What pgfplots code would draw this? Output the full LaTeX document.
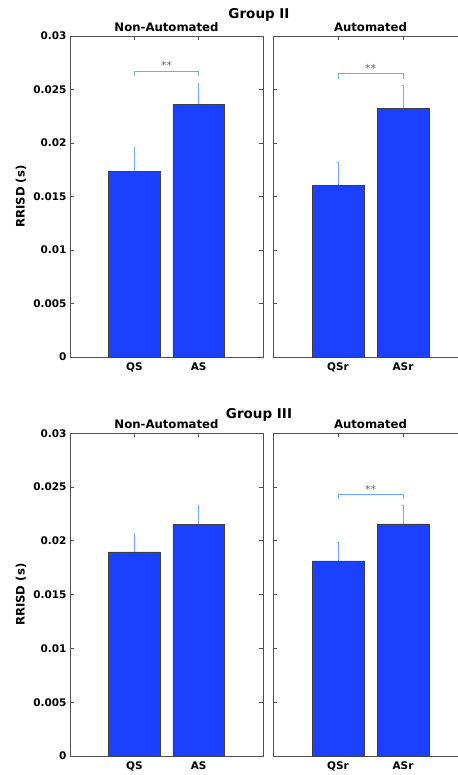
\documentclass[border=0pt]{standalone}
\usepackage{pgfplots}
\pgfplotsset{compat=1.18}
\usepackage{fontspec}
\setmainfont{DejaVu Sans}
\definecolor{barblue}{RGB}{28,64,255}
\definecolor{errblue}{RGB}{105,172,255}
\definecolor{spine}{RGB}{80,80,80}
\definecolor{stargray}{RGB}{105,105,105}
\tikzset{stars/.style={stargray, anchor=base, font=\fontsize{11}{11}\selectfont}}
\pgfplotsset{
  panel/.style={
    scale only axis, anchor=south west,
    xmin=0, xmax=3, ymin=0, ymax=0.03,
    xtick={1,2},
    ytick={0,0.005,0.01,0.015,0.02,0.025,0.03},
    scaled y ticks=false,
    tick align=inside, major tick length=4pt,
    axis line style={spine, line width=0.8pt},
    tick style={spine, line width=0.8pt},
    tick label style={font=\fontsize{10.5}{12}\selectfont\bfseries},
    xticklabel style={yshift=-2.5pt},
    title style={font=\fontsize{11.7}{13}\selectfont\bfseries, anchor=base, at={(0.5,1)}, yshift=-1.5pt},
    clip=false,
  },
  bars/.style={ybar, bar width=0.8, fill=barblue, draw=black!75, line width=0.6pt,
    error bars/.cd, y dir=plus, y explicit,
    error bar style={errblue, line width=1pt},
    error mark options={errblue, mark size=0.8pt, rotate=90}},
  bracket/.style={errblue, line width=0.9pt, mark=none},
}
\begin{document}
\begin{tikzpicture}[x=1pt,y=1pt]
\useasboundingbox (0,0) rectangle (457,775);
% ---------- Group II ----------
\node[anchor=base, font=\fontsize{13.5}{15}\selectfont\bfseries] at (259,756) {Group II};
\node[rotate=90, font=\fontsize{11.7}{13}\selectfont\bfseries] at (21,578.5) {RRISD (s)};
\begin{axis}[panel, at={(70pt,418pt)}, width=193pt, height=321pt,
  title={Non-Automated}, xticklabels={QS,AS},
  yticklabels={0,0.005,0.01,0.015,0.02,0.025,0.03}]
\addplot[bars] table[x=x, y=y, y error=e] {
x y e
1 0.01738 0.00218
2 0.02362 0.00196
};
\addplot[bracket] coordinates {(1,0.02626) (1,0.02673) (2,0.02673) (2,0.02626)};
\node[stars] at (axis cs:1.5,0.02687) {**};
\end{axis}
\begin{axis}[panel, at={(273pt,418pt)}, width=195pt, height=321pt,
  title={Automated}, xticklabels={QSr,ASr}, yticklabels={}]
\addplot[bars] table[x=x, y=y, y error=e] {
x y e
1 0.01607 0.00213
2 0.02327 0.00215
};
\addplot[bracket] coordinates {(1,0.02595) (1,0.02651) (2,0.02651) (2,0.02595)};
\node[stars] at (axis cs:1.5,0.02662) {**};
\end{axis}
% ---------- Group III ----------
\node[anchor=base, font=\fontsize{13.5}{15}\selectfont\bfseries] at (259,356.7) {Group III};
\node[rotate=90, font=\fontsize{11.7}{13}\selectfont\bfseries] at (21,180.3) {RRISD (s)};
\begin{axis}[panel, at={(70pt,19pt)}, width=193pt, height=322.7pt,
  title={Non-Automated}, xticklabels={QS,AS},
  yticklabels={0,0.005,0.01,0.015,0.02,0.025,0.03}]
\addplot[bars] table[x=x, y=y, y error=e] {
x y e
1 0.01897 0.00170
2 0.02154 0.00173
};
\end{axis}
\begin{axis}[panel, at={(273pt,19pt)}, width=195pt, height=322.7pt,
  title={Automated}, xticklabels={QSr,ASr}, yticklabels={}]
\addplot[bars] table[x=x, y=y, y error=e] {
x y e
1 0.01813 0.00179
2 0.02157 0.00170
};
\addplot[bracket] coordinates {(1,0.02387) (1,0.02429) (2,0.02429) (2,0.02387)};
\node[stars] at (axis cs:1.5,0.02438) {**};
\end{axis}
\end{tikzpicture}
\end{document}
